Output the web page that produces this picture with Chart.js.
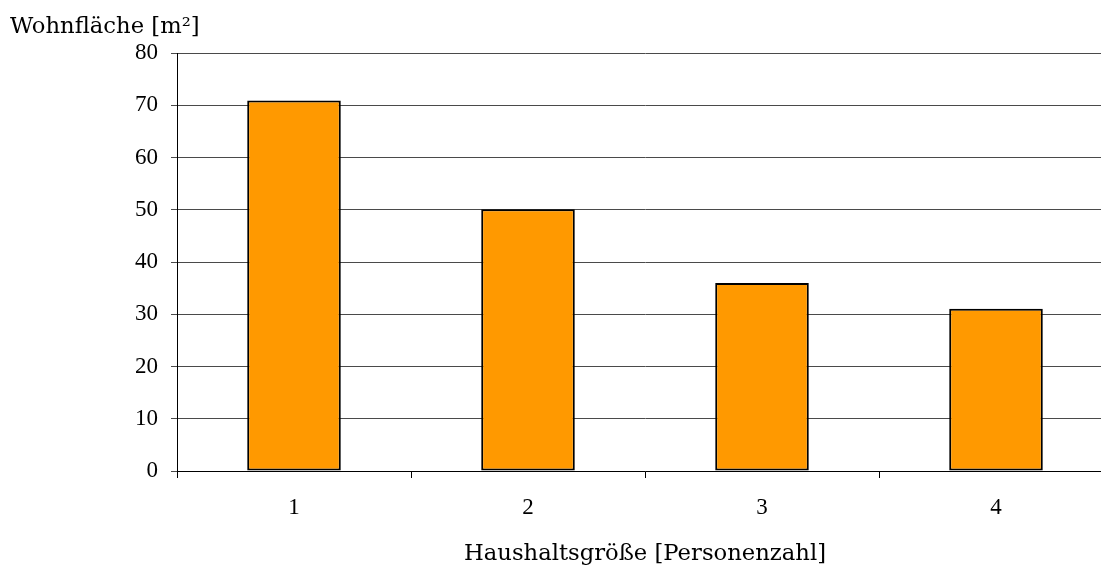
<!DOCTYPE html>
<html>
<head>
<meta charset="utf-8">
<script src="https://cdn.jsdelivr.net/npm/chart.js@4"></script>
<style>
  html, body { margin: 0; padding: 0; background: #fff; overflow: hidden; }
  #wrap { position: relative; width: 1113px; height: 568px; }
</style>
</head>
<body>
<div id="wrap"><canvas id="c"></canvas></div>
<script>
// Average living space per person by household size
const categories = ['1', '2', '3', '4'];
const wohnflaeche = [70.9, 50.1, 36.0, 31.05];
const yTicks = [0, 10, 20, 30, 40, 50, 60, 70, 80];

const tickFont = "'Liberation Serif', 'DejaVu Serif', serif";
const titleFont = "'DejaVu Serif', 'Liberation Serif', serif";

new Chart(document.getElementById('c'), {
  type: 'bar',
  data: {
    labels: categories,
    datasets: [{
      data: wohnflaeche,
      backgroundColor: '#FF9900',
      borderColor: '#000000',
      borderWidth: 2,
      borderSkipped: false,
      categoryPercentage: 0.4,
      barPercentage: 1.0
    }]
  },
  options: {
    responsive: true,
    maintainAspectRatio: false,
    animation: false,
    devicePixelRatio: 1,
    layout: { padding: { left: 10, right: 0, top: 0, bottom: 0 } },
    plugins: {
      legend: { display: false },
      tooltip: { enabled: false },
      title: {
        display: true,
        text: 'Wohnfläche [m²]',
        align: 'start',
        color: '#000',
        font: { family: titleFont, size: 22.7, weight: 'normal' },
        padding: { top: 13.5, bottom: 12.3 }
      }
    },
    scales: {
      x: {
        offset: true,
        grid: {
          display: true,
          offset: true,
          drawOnChartArea: false,
          drawTicks: true,
          tickLength: 7,
          color: '#000'
        },
        border: { display: true, color: '#000', width: 1 },
        ticks: {
          color: '#000',
          font: { family: tickFont, size: 23 },
          padding: 16
        },
        title: {
          display: true,
          text: 'Haushaltsgröße [Personenzahl]',
          color: '#000',
          font: { family: titleFont, size: 22.7 },
          padding: { top: 10, bottom: 0 }
        },
        afterFit(scale) { scale.height = 97; }
      },
      y: {
        min: 0,
        max: 80,
        afterBuildTicks(scale) { scale.ticks = yTicks.map(v => ({ value: v })); },
        grid: {
          color: '#4a4a4a',
          lineWidth: 1,
          drawTicks: true,
          tickLength: 6
        },
        border: { display: true, color: '#000', width: 1 },
        ticks: {
          color: '#000',
          font: { family: tickFont, size: 23 },
          padding: 13
        },
        afterFit(scale) { scale.width = 167; }
      }
    }
  }
});
</script>
</body>
</html>
